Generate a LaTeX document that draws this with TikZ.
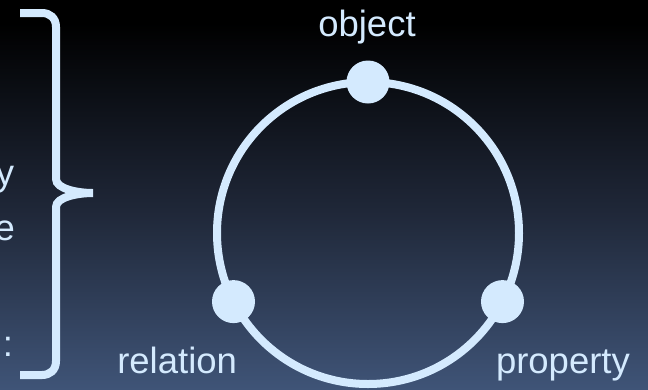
\documentclass[tikz,border=0pt]{standalone}
\usepackage{fontspec}
\setmainfont{Liberation Sans}
\definecolor{bgbot}{HTML}{3F5477}
\definecolor{bgmid}{HTML}{1F2738}
\definecolor{ink}{HTML}{D4EAFE}
\pgfdeclareverticalshading{bgshade}{100bp}{color(0bp)=(bgbot); color(25bp)=(bgbot); color(48bp)=(bgmid); color(72bp)=(black); color(100bp)=(black)}
\tikzset{
  lbl/.style={inner sep=0pt, outer sep=0pt, text=ink, font=\fontsize{36.5}{40}\selectfont},
  dot/.style={circle, fill=ink, inner sep=0pt, minimum size=43pt},
  ringline/.style={draw=ink, line width=8pt},
}
\begin{document}
\begin{tikzpicture}[x=1pt, y=-1pt]
  \useasboundingbox (0,0) rectangle (648,389);
  \shade[shading=bgshade] (0,0) rectangle (648,389);
  % left text fragments
  \begin{scope}
    \clip (0,0) rectangle (648,389);
    \node[lbl, anchor=base east] (ty) at (14,185) {y};
    \node[lbl, anchor=base east] (te) at (15,240) {e};
    \node[lbl, anchor=base east] (tc) at (13,356) {:};
  \end{scope}
  % brace
  \coordinate (btop) at (20,13);
  \coordinate (btip) at (93,193);
  \coordinate (bbot) at (20,375);
  \draw[ink, line width=8pt]
    (btop) -- (42,13) .. controls (50,13) and (56,18) .. (56,27)
    -- (56,179) .. controls (56,189) and (78,193) .. (btip)
    .. controls (78,193) and (56,197) .. (56,207)
    -- (56,361) .. controls (56,370) and (50,375) .. (42,375) -- (bbot);
  % ring
  \node[circle, ringline, inner sep=0pt, minimum size=302pt] (ring) at (368,233) {};
  \node[dot] (dobj) at (368,82) {};
  \node[dot] (drel) at (233.5,301.6) {};
  \node[dot] (dprop) at (502.5,301.6) {};
  % labels
  \node[lbl, anchor=base] (lobj) at (367,36) {object};
  \node[lbl, anchor=base east] (lrel) at (237,373) {relation};
  \node[lbl, anchor=base west] (lprop) at (496,373) {property};
\end{tikzpicture}
\end{document}
